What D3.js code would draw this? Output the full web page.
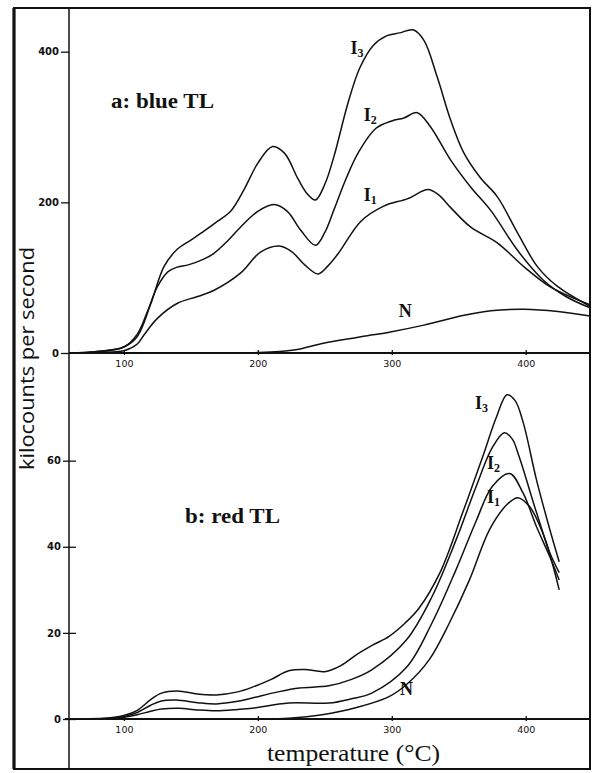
<!DOCTYPE html>
<html>
<head>
<meta charset="utf-8">
<script src="https://cdn.jsdelivr.net/npm/d3@7"></script>
<style>
  html, body { margin: 0; padding: 0; background: #fff; }
  svg { display: block; }
</style>
</head>
<body>
<div id="chart"></div>
<script>
// ---- data (temperature in °C, kilocounts per second) ----
// panel a: blue TL
const blueI3 = [[59,0],[80,2],[100,8],[110,22],[120,65],[130,115],[140,138],[150,150],[160,162],[170,175],[180,189],[190,218],[200,252],[211,274],[220,265],[230,231],[237,211],[243,203],[250,224],[257,262],[267,330],[276,378],[286,408],[296,421],[306,425],[316,429],[324,415],[334,366],[344,309],[354,265],[366,233],[379,207],[394,159],[409,114],[424,88],[448,62]];
const blueI2 = [[59,0],[80,2],[100,8],[110,25],[118,57],[125,88],[133,108],[140,114],[148,117],[160,125],[167,132],[177,148],[187,167],[200,188],[212,197],[222,188],[232,163],[243,143],[250,160],[257,191],[266,232],[275,266],[288,298],[300,308],[309,312],[319,319],[329,300],[344,256],[359,220],[374,189],[394,136],[413,97],[430,75],[448,60]];
const blueI1 = [[59,0],[80,1],[100,3],[110,12],[115,24],[125,46],[140,66],[155,75],[167,83],[187,106],[202,134],[216,142],[225,135],[235,117],[245,105],[252,115],[260,132],[277,175],[294,195],[312,205],[327,217],[335,210],[344,193],[359,167],[379,146],[399,114],[419,87],[448,64]];
const blueN = [[59,0],[150,0],[200,0.5],[227,4],[249,13],[275,21],[299,28],[324,37],[354,50],[374,56],[399,58],[424,55],[448,49]];

// panel b: red TL
const redI3 = [[59,0],[90,0.3],[100,0.8],[110,2],[120,4.5],[128,6],[140,6.5],[155,5.8],[169,5.6],[185,6.3],[196,7.4],[210,9.2],[223,11.2],[235,11.5],[250,11],[262,12.4],[274,15],[286,17.2],[298,19.2],[310,22.3],[320,25.6],[336,34],[353,48],[368,61],[378,70],[386,75.3],[392,74],[398,69],[408,55.6],[418,44],[425,36.5]];
const redI2 = [[59,0],[90,0.2],[100,0.6],[110,1.5],[120,3.2],[128,4.2],[139,4.4],[155,3.8],[169,3.5],[185,4.1],[196,4.9],[215,6.3],[231,7.2],[253,7.7],[270,9.2],[285,11.4],[311,18.4],[330,28.4],[348,41.6],[363,54],[375,63],[384,66.5],[390,65],[395,61],[408,48],[418,38.6],[425,34]];
const redI1 = [[59,0],[90,0.1],[100,0.4],[110,1],[120,1.8],[128,2.3],[141,2.5],[155,2.1],[169,1.9],[185,2.2],[196,2.5],[223,3.7],[253,3.7],[270,4.7],[285,6],[311,12],[330,22.3],[348,34.7],[363,46],[375,54],[388,57],[398,52.5],[408,44.7],[418,37.7],[425,32.3]];
const redN = [[59,0],[200,0],[223,0.2],[248,1],[273,2.6],[298,5.2],[311,8],[328,13.8],[343,22.3],[358,32.3],[373,44],[386,49.8],[394,51.4],[403,49.3],[413,43],[420,36],[425,30]];

const xTicks = [100, 200, 300, 400];
const blueTicks = [0, 200, 400];
const redTicks = [0, 20, 40, 60];

// ---- layout ----
const W = 593, H = 773;
const frame = { left: 14, top: 8, right: 590, bottom: 769 };
const axisX = 69;

const svg = d3.select("#chart").append("svg").attr("width", W).attr("height", H);
svg.append("rect").attr("width", W).attr("height", H).attr("fill", "#fff");

// scales
const x = d3.scaleLinear().domain([59, 448]).range([axisX, frame.right]);
const yA = d3.scaleLinear().domain([0, 458]).range([353, frame.top]);
const yB = d3.scaleLinear().domain([0, 85]).range([719, 353]);

const line = (y) => d3.line().x((d) => x(d[0])).y((d) => y(d[1])).curve(d3.curveCatmullRom.alpha(0.5));

// frame
svg.append("rect")
  .attr("x", frame.left).attr("y", frame.top)
  .attr("width", frame.right - frame.left).attr("height", frame.bottom - frame.top)
  .attr("fill", "none").attr("stroke", "#111").attr("stroke-width", 2);
svg.append("line")
  .attr("x1", frame.left).attr("x2", frame.left)
  .attr("y1", frame.top).attr("y2", frame.bottom)
  .attr("stroke", "#111").attr("stroke-width", 3.2);

// shared y axis line
svg.append("line")
  .attr("x1", axisX).attr("x2", axisX)
  .attr("y1", frame.top).attr("y2", frame.bottom)
  .attr("stroke", "#111").attr("stroke-width", 1.5);

function drawPanel(yScale, yTicks, ySize, baseY, series, xStart) {
  // x axis
  const gx = svg.append("g").attr("transform", `translate(0,${baseY})`)
    .call(d3.axisBottom(x).tickValues(xTicks).tickSizeInner(3).tickSizeOuter(0).tickPadding(4));
  gx.select(".domain").remove();
  gx.selectAll(".tick line").attr("y1", -3).attr("y2", 2).attr("stroke", "#111").attr("stroke-width", 1.3);
  gx.selectAll(".tick text")
    .style("font-family", "DejaVu Sans").style("font-size", "9.5px").attr("fill", "#111");
  svg.append("line")
    .attr("x1", xStart).attr("x2", frame.right)
    .attr("y1", baseY).attr("y2", baseY)
    .attr("stroke", "#111").attr("stroke-width", 1.8);

  // y axis
  const gy = svg.append("g").attr("transform", `translate(${axisX},0)`)
    .call(d3.axisLeft(yScale).tickValues(yTicks).tickSizeInner(ySize[0]).tickSizeOuter(0).tickPadding(2));
  gy.select(".domain").remove();
  gy.selectAll(".tick line").attr("x2", ySize[1]).attr("x1", -ySize[0]).attr("stroke", "#111").attr("stroke-width", 1.3);
  gy.selectAll(".tick text")
    .style("font-family", "DejaVu Sans").style("font-size", "10px").style("font-weight", "bold").attr("fill", "#111");

  // curves
  svg.append("g").selectAll("path")
    .data(series)
    .join("path")
    .attr("d", (d) => line(yScale)(d))
    .attr("fill", "none")
    .attr("stroke", "#111")
    .attr("stroke-width", 1.5)
    .attr("stroke-linejoin", "round");
}

drawPanel(yA, blueTicks, [8, 0], 353, [blueI3, blueI2, blueI1, blueN], axisX);
drawPanel(yB, redTicks, [6, 7], 719, [redI3, redI2, redI1, redN], 65);

// curve labels
function curveLabel(t, v, y, name, sub) {
  const txt = svg.append("text")
    .attr("x", x(t)).attr("y", y(v))
    .attr("text-anchor", "middle")
    .attr("dominant-baseline", "middle")
    .style("font-family", "Liberation Serif")
    .style("font-weight", "bold")
    .style("font-size", "18px")
    .attr("fill", "#111");
  txt.append("tspan").text(name);
  if (sub) txt.append("tspan").attr("dy", 4).style("font-size", "12px").text(sub);
}
curveLabel(274, 402, yA, "I", "3");
curveLabel(284, 313, yA, "I", "2");
curveLabel(284, 207, yA, "I", "1");
curveLabel(310, 53, yA, "N");
curveLabel(367, 73, yB, "I", "3");
curveLabel(376, 59, yB, "I", "2");
curveLabel(376, 51.2, yB, "I", "1");
curveLabel(311, 6.5, yB, "N");

// panel titles
svg.append("text").attr("x", 111).attr("y", 108)
  .attr("textLength", 103).attr("lengthAdjust", "spacingAndGlyphs")
  .style("font-family", "Liberation Serif").style("font-weight", "bold").style("font-size", "20px")
  .attr("fill", "#111").text("a: blue TL");
svg.append("text").attr("x", 185).attr("y", 523)
  .attr("textLength", 95).attr("lengthAdjust", "spacingAndGlyphs")
  .style("font-family", "Liberation Serif").style("font-weight", "bold").style("font-size", "20px")
  .attr("fill", "#111").text("b: red TL");

// axis titles
svg.append("text")
  .attr("transform", "translate(34,470) rotate(-90)")
  .attr("textLength", 223).attr("lengthAdjust", "spacingAndGlyphs")
  .style("font-family", "Open Sans").style("font-size", "20px")
  .attr("fill", "#111").text("kilocounts per second");
svg.append("text")
  .attr("x", 267).attr("y", 761)
  .attr("textLength", 173).attr("lengthAdjust", "spacingAndGlyphs")
  .style("font-family", "Liberation Serif").style("font-size", "23px")
  .attr("fill", "#111").text("temperature (°C)");
</script>
</body>
</html>
